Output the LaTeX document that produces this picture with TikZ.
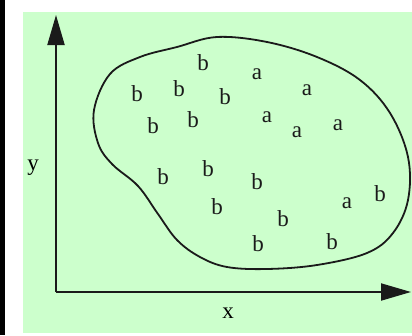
\documentclass[tikz,border=0pt]{standalone}
\usepackage{fontspec}
\setmainfont{Liberation Serif}
\usetikzlibrary{arrows.meta}
\definecolor{PlotGreen}{HTML}{CCFFCC}
\definecolor{LineGrey}{HTML}{1A1A1A}

\begin{document}
\begin{tikzpicture}[x=1pt,y=-1pt,font=\fontsize{23}{25}\selectfont,
  axis/.style={LineGrey,line width=2pt,-{Triangle[length=30pt,width=17pt]}},
  pt/.style={inner sep=0pt,text=LineGrey}]
  \useasboundingbox (0,0) rectangle (412,335);
  \fill[white] (0,0) rectangle (412,335); \fill[black] (0,0) rectangle (5,335);
  \fill[PlotGreen] (23,12) rectangle (412,333);
  \coordinate (origin) at (56,292); \coordinate (ytip) at (56,15); \coordinate (xtip) at (411,292);
  \draw[axis] (origin) -- (ytip); \draw[axis] (origin) -- (xtip);
  \node (ylab) at (33,168) {y}; \node (xlab) at (228,313) {x};
  \draw[LineGrey,line width=1.8pt] plot[smooth cycle,tension=0.6] coordinates {
    (94,110) (110,74) (140,57) (177,47) (217,37) (267,42) (317,57) (360,80) (390,113)
    (408,157) (408,200) (393,233) (367,253) (317,265) (267,269) (227,267) (200,257)
    (177,240) (158,214) (138,186) (112,164) (98,143)};
  \node[pt] (b1) at (203,63) {b}; \node[pt] (a1) at (257,74) {a};
  \node[pt] (b2) at (137,94) {b}; \node[pt] (b3) at (179,89) {b}; \node[pt] (b4) at (225,97) {b};
  \node[pt] (a2) at (307,90) {a};
  \node[pt] (b5) at (153,126) {b}; \node[pt] (b6) at (193,120) {b};
  \node[pt] (a3) at (267,117) {a}; \node[pt] (a4) at (297,132) {a}; \node[pt] (a5) at (338,125) {a};
  \node[pt] (b7) at (163,177) {b}; \node[pt] (b8) at (208,169) {b}; \node[pt] (b9) at (257,182) {b};
  \node[pt] (b10) at (217,207) {b}; \node[pt] (b11) at (283,219) {b};
  \node[pt] (a6) at (347,203) {a}; \node[pt] (b12) at (380,194) {b};
  \node[pt] (b13) at (258,244) {b}; \node[pt] (b14) at (332,242) {b};
\end{tikzpicture}
\end{document}
